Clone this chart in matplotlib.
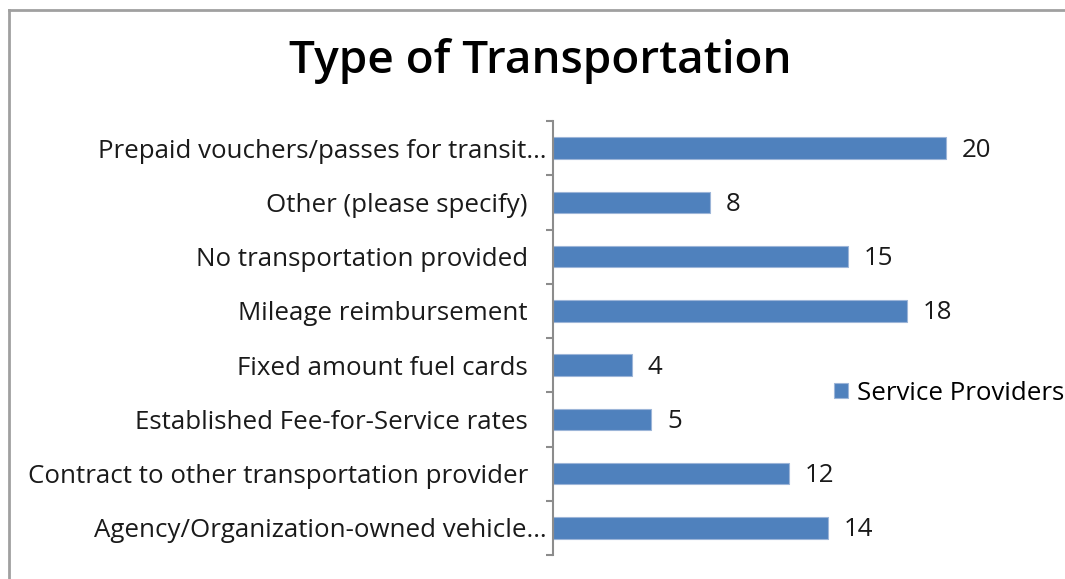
import matplotlib
matplotlib.use("Agg")
import matplotlib.pyplot as plt
from matplotlib.lines import Line2D
import matplotlib.transforms as mtransforms

categories = [
    "Agency/Organization-owned vehicle…",
    "Contract to other transportation provider",
    "Established Fee-for-Service rates",
    "Fixed amount fuel cards",
    "Mileage reimbursement",
    "No transportation provided",
    "Other (please specify)",
    "Prepaid vouchers/passes for transit…",
]
values = [14, 12, 5, 4, 18, 15, 8, 20]
series_name = "Service Providers"
title = "Type of Transportation"

plt.rcParams['font.family'] = ['Open Sans', 'DejaVu Sans']

W, H = 1065, 579
FS = 18.6
fig = plt.figure(figsize=(W / 100, H / 100), dpi=100)

# figure border (top and left visible)
fig.add_artist(Line2D([9 / W, 9 / W], [0, 1 - 10 / H], transform=fig.transFigure,
                      color="#a0a0a0", lw=2))
fig.add_artist(Line2D([9 / W, 1], [1 - 10 / H, 1 - 10 / H], transform=fig.transFigure,
                      color="#a0a0a0", lw=2))

ax_left, ax_right = 553 / W, 1044 / W
ax_top, ax_bot = 1 - 121 / H, 1 - 555 / H
ax = fig.add_axes([ax_left, ax_bot, ax_right - ax_left, ax_top - ax_bot])

y = list(range(len(categories)))
bars = ax.barh(y, values, height=0.4, color="#4F81BD", edgecolor="#9cb5d8",
               linewidth=0.8, label=series_name)
ax.set_xlim(0, 25)
ax.set_ylim(-0.5, len(categories) - 0.5)

for spine in ["top", "right", "bottom"]:
    ax.spines[spine].set_visible(False)
ax.spines["left"].set_color("#8c8c8c")
ax.spines["left"].set_linewidth(1.5)
ax.set_xticks([])

ax.set_yticks(y)
ax.set_yticklabels(categories, fontsize=FS, color="#1a1a1a")
ax.tick_params(axis="y", length=0, pad=18)
# truncated labels sit closer to axis
for lab in ax.get_yticklabels():
    if lab.get_text().endswith("…"):
        lab.set_transform(lab.get_transform() + mtransforms.ScaledTranslation(19 / 100, 0, fig.dpi_scale_trans))

# minor ticks between categories
ax.set_yticks([i - 0.5 for i in range(len(categories) + 1)], minor=True)
ax.tick_params(axis="y", which="minor", length=5, width=1.5, color="#8c8c8c", direction="out")

for bar, v in zip(bars, values):
    ax.annotate(str(v), (bar.get_width(), bar.get_y() + bar.get_height() / 2),
                xytext=(16, -2), textcoords="offset pixels",
                va="center", ha="left", fontsize=FS, color="#1a1a1a")

fig.text(540 / W, 1 - 61 / H, title, ha="center", va="center", fontsize=33,
         fontweight="semibold", color="black")

leg = ax.legend(loc="center left", bbox_to_anchor=(834 / W, 1 - 393 / H),
                bbox_transform=fig.transFigure, frameon=False, fontsize=FS,
                handlelength=0.55, handleheight=0.55, handletextpad=0.35, borderpad=0,
                borderaxespad=0)

fig.savefig("out.png", dpi=100)
